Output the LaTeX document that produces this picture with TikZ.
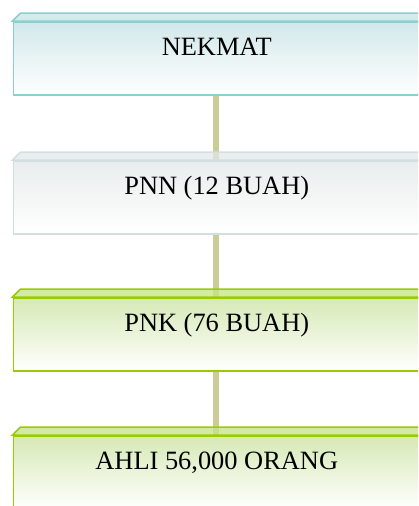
\documentclass[tikz,border=0pt]{standalone}
\usepackage{fontspec}
\setmainfont{Liberation Serif}
\begin{document}
\begin{tikzpicture}[x=1pt,y=-1pt]
\definecolor{tealB}{HTML}{8CCFD0}
\definecolor{tealF}{HTML}{D2E8EA}
\definecolor{tealV}{HTML}{C3E4E4}
\definecolor{grayB}{HTML}{D3DEDF}
\definecolor{grayF}{HTML}{E9EDED}
\definecolor{grayV}{HTML}{E1E8E8}
\definecolor{grnB}{HTML}{99CC00}
\definecolor{grnF}{HTML}{D6E9B6}
\definecolor{grnV}{HTML}{C5E385}
\definecolor{connC}{HTML}{CCCC99}
\newcommand{\boxtxt}[1]{\makebox[424pt][l]{\makebox[407pt]{#1}}}
\tikzset{
  face/.style={draw=#1B, line width=1.5pt, inner sep=0pt,
     text height=34pt, text depth=39pt, top color=#1F, middle color=#1F!55!white,
     bottom color=white, font=\fontsize{26.4}{30}\selectfont, anchor=north west},
  conn/.style={draw=connC, line width=6pt},
  bevel/.style={draw=#1B, line width=1.5pt, fill=#1V, fill opacity=0.75}
}
\useasboundingbox (0,0) rectangle (418,506);
\clip (0,0) rectangle (418,506);
\node[face=teal] (f1) at (12.5,21) {\boxtxt{NEKMAT}};
\node[face=gray] (f2) at (12.5,160) {\boxtxt{PNN (12 BUAH)}};
\node[face=grn] (f3) at (12.5,297) {\boxtxt{PNK (76 BUAH)}};
\node[face=grn] (f4) at (12.5,435) {\boxtxt{AHLI 56,000 ORANG}};
\draw[conn, shorten <=0.75pt] (f1.south west) ++(203.5,0) coordinate (c1a) -- (f2.north west -| c1a);
\draw[conn, shorten <=0.75pt] (f2.south west) ++(203.5,0) coordinate (c2a) -- (f3.north west -| c2a);
\draw[conn, shorten <=0.75pt] (f3.south west) ++(203.5,0) coordinate (c3a) -- (f4.north west -| c3a);
\foreach \n/\c in {f1/teal,f2/gray,f3/grn,f4/grn}{
  \path[bevel=\c] (\n.north west) -- ++(8,-8) -- ++(420,0) -- (\n.north east) -- cycle;
}
\end{tikzpicture}
\end{document}
